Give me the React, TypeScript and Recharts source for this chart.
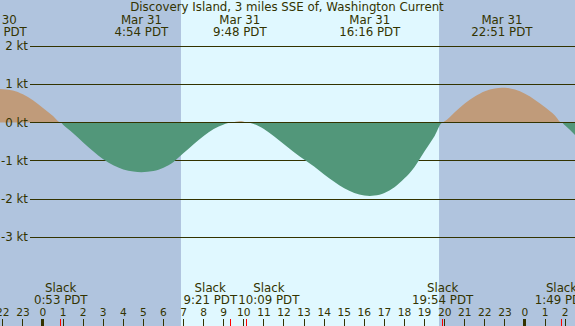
import { ComposedChart, Area, XAxis, YAxis, ReferenceArea, ReferenceLine } from "recharts";

// tidal current, hours counted from Mar 31 00:00 PDT (negative = Mar 30, >24 = Apr 1)
const hours = [
  -2.2, -1.5, -1, -0.5, 0, 0.5, 0.883, 1, 1.5, 2, 2.5, 3, 3.5, 4, 4.5, 4.9, 5.5, 6, 6.5, 7, 7.5, 8, 8.5, 9, 9.35,
  9.6, 9.8, 10, 10.15, 10.5, 11, 11.5, 12, 12.5, 13, 13.5, 14, 14.5, 15, 15.5, 16, 16.27, 16.5, 17, 17.5, 18, 18.5,
  19, 19.5, 19.9, 20, 20.5, 21, 21.5, 22, 22.5, 22.85, 23, 23.5, 24, 24.5, 25, 25.5, 25.82, 26, 26.5,
];
const speed = [
  0.88, 0.84, 0.74, 0.58, 0.38, 0.17, 0, -0.06, -0.28, -0.52, -0.75, -0.96, -1.12, -1.23, -1.28, -1.3, -1.27, -1.18,
  -1.03, -0.8, -0.57, -0.35, -0.17, -0.05, 0, 0.02, 0.03, 0.02, 0, -0.04, -0.17, -0.36, -0.57, -0.78, -0.97, -1.15,
  -1.36, -1.55, -1.72, -1.84, -1.91, -1.92, -1.91, -1.84, -1.69, -1.46, -1.16, -0.75, -0.35, 0, 0.03, 0.27, 0.5, 0.68,
  0.82, 0.89, 0.91, 0.91, 0.86, 0.75, 0.59, 0.4, 0.18, 0, -0.08, -0.33,
];

const peakHours = [-2.33, 4.9, 9.8, 16.27, 22.85];
const peakDates = ["Mar 30", "Mar 31", "Mar 31", "Mar 31", "Mar 31"];
const peakTimes = ["21:40 PDT", "4:54 PDT", "9:48 PDT", "16:16 PDT", "22:51 PDT"];

const slackHours = [0.883, 9.35, 10.15, 19.9, 25.82];
const slackTimes = ["0:53 PDT", "9:21 PDT", "10:09 PDT", "19:54 PDT", "1:49 PDT"];
// labels that would collide are pushed apart sideways (px)
const slackNudge = [0, -20.5, 22, 0, 0];

const hourTicks = [-2, -1, 0, 1, 2, 3, 4, 5, 6, 7, 8, 9, 10, 11, 12, 13, 14, 15, 16, 17, 18, 19, 20, 21, 22, 23, 24, 25, 26];
const hourLabels = ["22", "23", "0", "1", "2", "3", "4", "5", "6", "7", "8", "9", "10", "11", "12", "13", "14", "15", "16", "17", "18", "19", "20", "21", "22", "23", "0", "1", "2"];

const ktTicks = [-3, -2, -1, 0, 1, 2];
const ktLabels = ["-3 kt", "-2 kt", "-1 kt", "0 kt", "1 kt", "2 kt"];

const sunrise = 6.87;
const sunset = 19.72;
const title = "Discovery Island, 3 miles SSE of, Washington Current";

const X_DOMAIN = [-2.141, 26.49];
const Y_DOMAIN = [-5.32, 3.203];
const GRID_START = -0.647;

const INK = "#333300";
const NIGHT = "#b0c4de";
const DAY = "#e0f8ff";
const FLOOD = "#c09b7a";
const EBB = "#52977a";
const FONT = "DejaVu Sans";
const FS = 11.8;

const rows = hours.map((h, i) => ({
  hour: h,
  flood: Math.max(speed[i], 0),
  ebb: Math.min(speed[i], 0),
}));

function HourTick(props: any) {
  const { x, payload } = props;
  const i = hourTicks.indexOf(payload.value);
  const midnight = hourLabels[i] === "0";
  return (
    <g>
      <text x={x} y={315.5} textAnchor="middle" fill={INK} fontSize={10.6} fontFamily={FONT}>
        {hourLabels[i]}
      </text>
      <line x1={x} x2={x} y1={319} y2={326} stroke={INK} strokeWidth={midnight ? 3 : 1} shapeRendering="crispEdges" />
    </g>
  );
}

function SlackTick(props: any) {
  const { x, payload } = props;
  const i = slackHours.indexOf(payload.value);
  const tx = x + slackNudge[i];
  return (
    <g>
      <text x={tx} y={292} textAnchor="middle" fill={INK} fontSize={FS} fontFamily={FONT}>Slack</text>
      <text x={tx} y={304} textAnchor="middle" fill={INK} fontSize={FS} fontFamily={FONT}>{slackTimes[i]}</text>
      <line x1={x} x2={x} y1={319} y2={326} stroke="#ff0000" strokeWidth={1} shapeRendering="crispEdges" />
    </g>
  );
}

function PeakTick(props: any) {
  const { x, payload } = props;
  const i = peakHours.indexOf(payload.value);
  return (
    <g>
      <text x={x} y={23.5} textAnchor="middle" fill={INK} fontSize={FS} fontFamily={FONT}>{peakDates[i]}</text>
      <text x={x} y={36} textAnchor="middle" fill={INK} fontSize={FS} fontFamily={FONT}>{peakTimes[i]}</text>
    </g>
  );
}

function KtTick(props: any) {
  const { y, payload } = props;
  const i = ktTicks.indexOf(payload.value);
  return (
    <text x={28} y={y + 4} textAnchor="end" fill={INK} fontSize={FS} fontFamily={FONT}>
      {ktLabels[i]}
    </text>
  );
}

export default function App() {
  return (
    <div style={{ width: 575, height: 326, background: NIGHT, overflow: "hidden" }}>
      <style>{"body{margin:0}"}</style>
      <ComposedChart width={575} height={326} data={rows} margin={{ top: -1, right: 0, bottom: -2, left: -1 }}>
        <XAxis
          dataKey="hour"
          type="number"
          domain={X_DOMAIN}
          allowDataOverflow
          ticks={hourTicks}
          interval={0}
          height={1}
          axisLine={false}
          tickLine={false}
          tick={HourTick}
        />
        <XAxis
          xAxisId="slack"
          dataKey="hour"
          type="number"
          domain={X_DOMAIN}
          allowDataOverflow
          ticks={slackHours}
          interval={0}
          height={1}
          axisLine={false}
          tickLine={false}
          tick={SlackTick}
        />
        <XAxis
          xAxisId="top"
          dataKey="hour"
          orientation="top"
          type="number"
          domain={X_DOMAIN}
          allowDataOverflow
          ticks={peakHours}
          interval={0}
          height={1}
          axisLine={false}
          tickLine={false}
          tick={PeakTick}
        />
        <YAxis
          type="number"
          domain={Y_DOMAIN}
          allowDataOverflow
          ticks={ktTicks}
          interval={0}
          width={1}
          axisLine={false}
          tickLine={false}
          tick={KtTick}
        />
        <ReferenceArea x1={sunrise} x2={sunset} fill={DAY} fillOpacity={1} stroke="none" zIndex={-20} />
        {ktTicks.map((v) => (
          <ReferenceLine
            key={v}
            segment={[
              { x: GRID_START, y: v },
              { x: X_DOMAIN[1], y: v },
            ]}
            stroke={INK}
            strokeWidth={1}
            shapeRendering="crispEdges"
            zIndex={v === 0 ? 300 : -10}
          />
        ))}
        <Area dataKey="flood" type="monotone" baseValue={0} fill={FLOOD} fillOpacity={1} stroke="none" isAnimationActive={false} />
        <Area dataKey="ebb" type="monotone" baseValue={0} fill={EBB} fillOpacity={1} stroke="none" isAnimationActive={false} />
        <text x={287} y={11} textAnchor="middle" fill={INK} fontSize={FS} fontFamily={FONT}>
          {title}
        </text>
      </ComposedChart>
    </div>
  );
}
